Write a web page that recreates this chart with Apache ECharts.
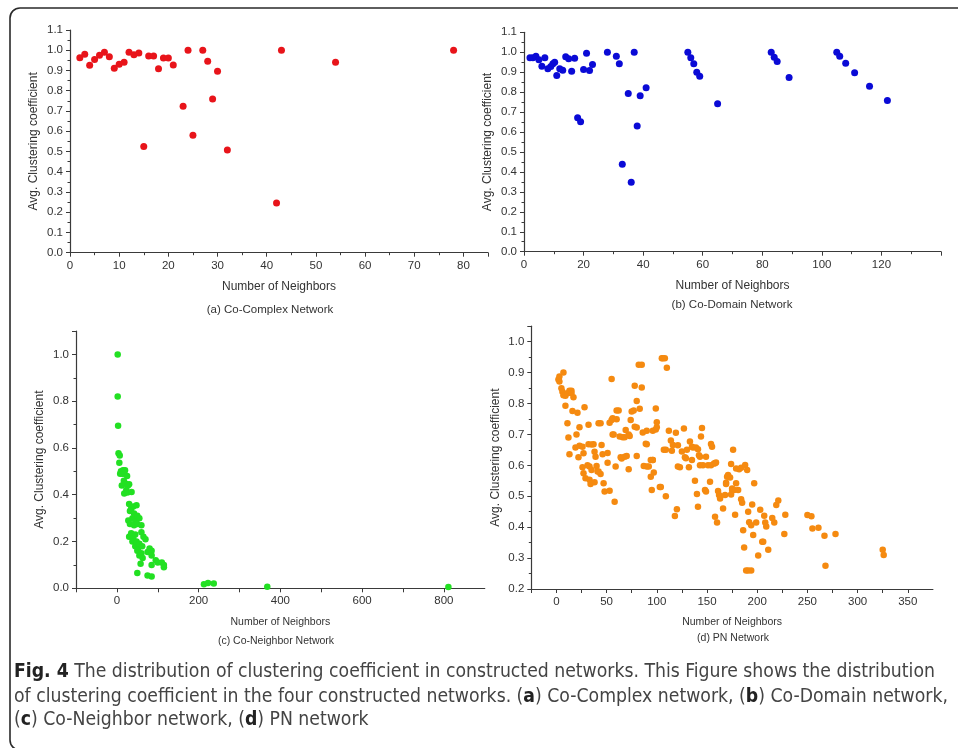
<!DOCTYPE html>
<html><head><meta charset="utf-8">
<script src="https://cdn.jsdelivr.net/npm/echarts@6/dist/echarts.min.js"></script>
<style>html,body{margin:0;padding:0;background:#fff}#c{width:958px;height:748px}</style>
</head><body><div id="c"></div>
<script>
// ---------- DATA ----------
const coComplex = [[2,0.963],[3,0.98],[4,0.926],[5,0.954],[6,0.975],[7,0.99],[8,0.968],[9,0.911],[10,0.931],[11,0.941],[12,0.99],[13,0.978],[14,0.987],[15,0.524],[16,0.972],[17,0.972],[18,0.909],[19,0.962],[20,0.962],[21,0.927],[23,0.723],[24,1.0],[25,0.58],[27,1.0],[28,0.946],[29,0.759],[30,0.896],[32,0.507],[42,0.245],[43,1.0],[54,0.941],[78,1.0]];
const coDomain = [[2,0.972],[3,0.972],[4,0.98],[5,0.962],[6,0.93],[7,0.973],[8,0.917],[9,0.928],[9.7,0.942],[10.3,0.95],[11,0.883],[12,0.917],[13,0.91],[14,0.977],[15,0.968],[16,0.905],[17,0.97],[18,0.672],[19,0.652],[20,0.913],[21,0.995],[22,0.908],[23,0.938],[28,1.0],[31,0.98],[32,0.942],[33,0.438],[35,0.793],[36,0.348],[37,1.0],[38,0.63],[39,0.782],[41,0.822],[55,1.0],[56,0.972],[57,0.942],[58,0.9],[59,0.88],[65,0.742],[83,1.0],[84,0.975],[85,0.953],[89,0.873],[105,1.0],[106,0.98],[108,0.945],[111,0.897],[116,0.83],[122,0.758]];
const coNeighbor = [[2,1.0],[2,0.82],[3,0.695],[4,0.577],[7,0.568],[6,0.537],[8,0.49],[10,0.5],[13,0.49],[15,0.505],[18,0.49],[20,0.505],[25,0.48],[12,0.44],[17,0.46],[22,0.447],[27,0.44],[30,0.445],[18,0.405],[23,0.42],[26,0.41],[36,0.412],[30,0.36],[35,0.34],[40,0.35],[48,0.355],[28,0.29],[32,0.33],[38,0.3],[42,0.32],[45,0.29],[50,0.31],[55,0.3],[32,0.275],[42,0.27],[50,0.275],[60,0.27],[30,0.22],[35,0.235],[40,0.215],[45,0.23],[60,0.24],[65,0.22],[70,0.21],[38,0.2],[45,0.18],[48,0.2],[52,0.17],[55,0.19],[62,0.18],[80,0.17],[50,0.16],[60,0.15],[75,0.155],[85,0.16],[55,0.14],[63,0.13],[85,0.14],[95,0.12],[100,0.11],[110,0.11],[58,0.105],[85,0.1],[115,0.1],[115,0.09],[50,0.065],[75,0.055],[85,0.05],[213,0.017],[223,0.023],[237,0.02],[368,0.007],[811,0.006]];
const pnNetwork = [[2,0.878],[3,0.887],[3,0.871],[7,0.9],[5,0.849],[6,0.838],[7,0.827],[9,0.825],[11,0.833],[13,0.841],[15,0.841],[15,0.833],[17,0.82],[9,0.793],[16,0.776],[21,0.77],[28,0.788],[11,0.736],[12,0.69],[13,0.636],[20,0.7],[23,0.723],[19,0.658],[23,0.663],[26,0.66],[27,0.639],[22,0.626],[27,0.574],[29,0.558],[26,0.594],[32,0.731],[32,0.668],[35,0.667],[37,0.668],[31,0.6],[33,0.596],[35,0.585],[33,0.553],[34,0.54],[38,0.545],[38,0.644],[39,0.628],[40,0.598],[41,0.58],[42,0.58],[42,0.736],[44,0.736],[45,0.666],[46,0.636],[44,0.572],[47,0.542],[48,0.515],[51,0.64],[51,0.608],[53,0.518],[53,0.738],[55,0.747],[56,0.752],[56,0.7],[55,0.879],[57,0.7],[58,0.482],[59,0.596],[60,0.777],[62,0.777],[60,0.749],[63,0.693],[64,0.626],[66,0.691],[68,0.691],[65,0.622],[68,0.628],[70,0.63],[69,0.714],[72,0.7],[72,0.587],[73,0.695],[74,0.747],[75,0.774],[77,0.777],[78,0.857],[80,0.63],[78,0.725],[80,0.722],[80,0.808],[82,0.925],[85,0.925],[85,0.852],[83,0.783],[86,0.706],[89,0.67],[90,0.712],[90,0.668],[87,0.598],[90,0.596],[92,0.596],[94,0.617],[96,0.617],[96,0.617],[94,0.563],[97,0.577],[95,0.52],[96,0.712],[99,0.716],[100,0.739],[100,0.723],[99,0.784],[103,0.53],[104,0.53],[105,0.946],[106,0.946],[108,0.946],[110,0.916],[107,0.65],[109,0.65],[109,0.5],[112,0.712],[114,0.68],[116,0.666],[115,0.647],[118,0.436],[120,0.458],[119,0.705],[121,0.665],[121,0.596],[123,0.594],[125,0.645],[127,0.719],[128,0.626],[129,0.623],[130,0.65],[132,0.594],[133,0.677],[135,0.66],[135,0.617],[136,0.658],[139,0.658],[138,0.55],[140,0.507],[141,0.652],[141,0.466],[142,0.633],[143,0.6],[143,0.628],[146,0.6],[144,0.693],[145,0.721],[148,0.52],[149,0.515],[149,0.628],[153,0.547],[154,0.669],[155,0.66],[151,0.6],[154,0.6],[157,0.606],[158,0.607],[159,0.609],[158,0.434],[160,0.415],[161,0.517],[162,0.504],[163,0.493],[166,0.46],[168,0.504],[169,0.544],[169,0.54],[170,0.563],[171,0.569],[176,0.65],[174,0.604],[179,0.59],[182,0.587],[184,0.592],[188,0.601],[190,0.585],[173,0.561],[179,0.542],[175,0.52],[175,0.525],[177,0.52],[181,0.52],[174,0.506],[197,0.542],[184,0.49],[185,0.479],[178,0.44],[195,0.473],[191,0.45],[203,0.456],[207,0.437],[219,0.472],[221,0.486],[228,0.44],[192,0.416],[194,0.406],[199,0.415],[208,0.415],[209,0.402],[215,0.43],[217,0.415],[186,0.39],[196,0.375],[227,0.378],[250,0.439],[254,0.435],[255,0.396],[261,0.398],[267,0.372],[278,0.378],[187,0.334],[205,0.353],[206,0.353],[211,0.327],[201,0.308],[189,0.26],[191,0.26],[194,0.26],[268,0.275],[325,0.327],[326,0.31]];
const xTitle = 'Number of Neighbors';
const yTitle = 'Avg. Clustering coefficient';
const subtitles = ['(a) Co-Complex Network', '(b) Co-Domain Network', '(c) Co-Neighbor Network', '(d) PN Network'];
const captionLines = [
  '{b|Fig. 4} The distribution of clustering coefficient in constructed networks. This Figure shows the distribution',
  'of clustering coefficient in the four constructed networks. ({b|a}) Co-Complex network, ({b|b}) Co-Domain network,',
  '({b|c}) Co-Neighbor network, ({b|d}) PN network'
];

// ---------- STYLE ----------
const FONT = '"Liberation Sans", Arial, sans-serif';
const AX = '#3a3a3a';
function xAx(idx, min, max, interval, labelFn, minor, nameSize){
  return {type:'value', gridIndex:idx, min, max, interval,
    name:xTitle, nameLocation:'middle', nameGap:28,
    nameTextStyle:{fontFamily:FONT, fontSize:nameSize, color:'#333'},
    axisLine:{onZero:false, lineStyle:{color:AX, width:1.2}},
    axisTick:{length:4, lineStyle:{color:AX}},
    minorTick:{show:minor, splitNumber:2, length:2.5, lineStyle:{color:AX}},
    splitLine:{show:false},
    axisLabel:{fontFamily:FONT, fontSize:11.5, color:'#333', margin:7, formatter:labelFn, showMaxLabel:false}
  };
}
function yAx(idx, min, max, interval, showMax, minor){
  return {type:'value', gridIndex:idx, min, max, interval,
    name:yTitle, nameLocation:'middle', nameGap:30, nameRotate:90,
    nameTextStyle:{fontFamily:FONT, fontSize:12, color:'#333'},
    axisLine:{onZero:false, lineStyle:{color:AX, width:1.2}},
    axisTick:{length:4, lineStyle:{color:AX}},
    minorTick:{show:minor, splitNumber:2, length:2.5, lineStyle:{color:AX}},
    splitLine:{show:false},
    axisLabel:{fontFamily:FONT, fontSize:11.5, color:'#333', margin:7, showMaxLabel:showMax,
      formatter:v=>v.toFixed(1)}
  };
}
const intLbl = v => String(Math.round(v));
const cLbl = v => (Math.round(v)%200===0 && v>=0 && v<=800) ? String(Math.round(v)) : '';
const dLbl = v => (Math.round(v)%50===0 && v>=0 && v<=350) ? String(Math.round(v)) : '';

// caption font size fit
const cv = document.createElement('canvas').getContext('2d');
const CAPFONT = '"Liberation Sans Narrow", "DejaVu Sans Condensed", sans-serif';
cv.font = '20px ' + CAPFONT;
const plain = captionLines[1].replace(/\{b\|([^}]*)\}/g,'$1');
let capSize = 20 * 932 / cv.measureText(plain).width;
capSize = Math.max(14, Math.min(22, capSize));

function sub(text, x, y, size){
  return {type:'text', x, y, style:{text, fontFamily:FONT, fontSize:size, fill:'#333', align:'center', verticalAlign:'middle'}};
}
function cap(text, y){
  return {type:'text', x:14, y, style:{text, fontFamily:CAPFONT, fontSize:capSize, fill:'#444', verticalAlign:'middle',
    rich:{b:{fontFamily:CAPFONT, fontSize:capSize, fontWeight:'bold', fill:'#222'}}}};
}

const chart = echarts.init(document.getElementById('c'), null, {renderer:'canvas'});
chart.setOption({
  animation:false,
  backgroundColor:'#fff',
  grid:[
    {left:70, top:30, width:418, height:222.7},
    {left:524, top:32.3, width:417, height:219.4},
    {left:76, top:331, width:408.75, height:257.3},
    {left:531.3, top:326.2, width:401.6, height:262.8}
  ],
  xAxis:[
    xAx(0, 0, 85, 10, intLbl, true, 12),
    xAx(1, 0, 140, 20, intLbl, true, 12),
    xAx(2, -100, 900, 100, cLbl, false, 10.5),
    xAx(3, -25, 375, 25, dLbl, false, 10.5)
  ],
  yAxis:[
    yAx(0, 0, 1.1, 0.1, true, true),
    yAx(1, 0, 1.1, 0.1, true, true),
    yAx(2, 0, 1.1, 0.2, false, true),
    yAx(3, 0.2, 1.05, 0.1, false, true)
  ],
  series:[
    {type:'scatter', xAxisIndex:0, yAxisIndex:0, data:coComplex, symbolSize:7, itemStyle:{color:'#e8141a', opacity:1}},
    {type:'scatter', xAxisIndex:1, yAxisIndex:1, data:coDomain, symbolSize:7, itemStyle:{color:'#0a0ad6', opacity:1}},
    {type:'scatter', xAxisIndex:2, yAxisIndex:2, data:coNeighbor, symbolSize:6.5, itemStyle:{color:'#22e022', opacity:1}},
    {type:'scatter', xAxisIndex:3, yAxisIndex:3, data:pnNetwork, symbolSize:6.5, itemStyle:{color:'#f58a10', opacity:1}}
  ],
  graphic:[
    {type:'rect', shape:{x:10, y:8, width:1000, height:742, r:10}, style:{stroke:'#2a2a2a', lineWidth:1.6, fill:'none'}},
    sub(subtitles[0], 270, 310, 11.5),
    sub(subtitles[1], 732, 305, 11.5),
    sub(subtitles[2], 276, 641, 10.5),
    sub(subtitles[3], 733, 638, 10.5),
    cap(captionLines[0], 672),
    cap(captionLines[1], 697),
    cap(captionLines[2], 720)
  ]
});
</script></body></html>
